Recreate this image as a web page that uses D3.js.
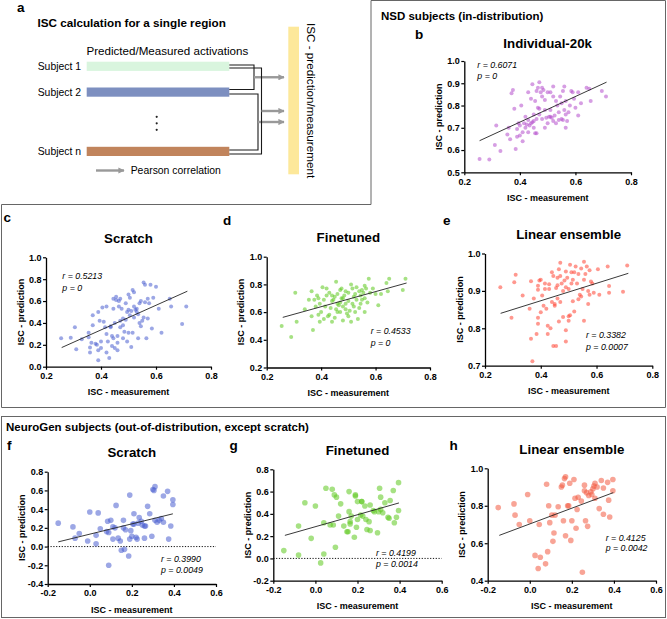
<!DOCTYPE html>
<html><head><meta charset="utf-8">
<script src="https://cdn.jsdelivr.net/npm/d3@7"></script>
<style>body{margin:0;background:#fff}svg{display:block}</style>
</head><body>
<svg id="c" width="667" height="619"></svg>
<script>
// ---------------- DATA ----------------
const subjects = ["Subject 1", "Subject 2", "Subject n"];
const subjectColors = ["#d9f5de", "#7d8fc0", "#c1845c"];

const xTicksNSD = [0.2, 0.4, 0.6, 0.8];
const xTicksNG = [-0.2, 0.0, 0.2, 0.4, 0.6];
const yTicksB = [0.5, 0.6, 0.7, 0.8, 0.9, 1.0];
const yTicksC = [0.0, 0.2, 0.4, 0.6, 0.8, 1.0];
const yTicksD = [0.2, 0.4, 0.6, 0.8, 1.0];
const yTicksE = [0.7, 0.8, 0.9, 1.0];
const yTicksF = [-0.4, -0.2, 0.0, 0.2, 0.4, 0.6, 0.8];
const yTicksG = [-0.2, 0.0, 0.2, 0.4, 0.6, 0.8];
const yTicksH = [0.4, 0.6, 0.8, 1.0];

const panelTitles = ["Individual-20k", "Scratch", "Finetuned", "Linear ensemble", "Scratch", "Finetuned", "Linear ensemble"];
const panelLetters = ["b", "c", "d", "e", "f", "g", "h"];
const statR = ["r = 0.6071", "r = 0.5213", "r = 0.4533", "r = 0.3382", "r = 0.3990", "r = 0.4199", "r = 0.4125"];
const statP = ["p = 0", "p = 0", "p = 0", "p = 0.0007", "p = 0.0049", "p = 0.0014", "p = 0.0042"];

const ptsB = [[0.255,0.56],[0.29,0.558],[0.31,0.623],[0.315,0.71],[0.33,0.596],[0.355,0.67],[0.36,0.70],[0.365,0.648],[0.37,0.855],[0.375,0.87],[0.38,0.785],[0.385,0.605],[0.39,0.695],[0.39,0.66],[0.395,0.72],[0.40,0.665],[0.40,0.71],[0.405,0.80],[0.41,0.68],[0.41,0.64],[0.415,0.72],[0.42,0.70],[0.42,0.75],[0.425,0.715],[0.43,0.68],[0.43,0.735],[0.435,0.71],[0.44,0.72],[0.44,0.83],[0.445,0.725],[0.445,0.895],[0.45,0.70],[0.45,0.76],[0.455,0.675],[0.455,0.82],[0.46,0.865],[0.46,0.675],[0.46,0.74],[0.465,0.79],[0.465,0.88],[0.47,0.905],[0.47,0.785],[0.47,0.76],[0.475,0.86],[0.48,0.88],[0.48,0.84],[0.48,0.74],[0.485,0.87],[0.49,0.825],[0.49,0.78],[0.49,0.70],[0.495,0.745],[0.50,0.86],[0.50,0.72],[0.505,0.75],[0.51,0.86],[0.51,0.78],[0.51,0.75],[0.515,0.745],[0.52,0.885],[0.52,0.84],[0.52,0.73],[0.525,0.755],[0.53,0.82],[0.53,0.72],[0.535,0.80],[0.54,0.77],[0.54,0.735],[0.545,0.84],[0.55,0.81],[0.55,0.74],[0.555,0.865],[0.555,0.735],[0.56,0.885],[0.56,0.78],[0.565,0.82],[0.565,0.76],[0.57,0.73],[0.575,0.77],[0.58,0.80],[0.585,0.865],[0.59,0.86],[0.595,0.83],[0.60,0.79],[0.61,0.755],[0.61,0.86],[0.62,0.81],[0.64,0.88],[0.65,0.875],[0.655,0.82],[0.695,0.865],[0.71,0.84],[0.565,0.70],[0.45,0.73],[0.43,0.86]];
const ptsC = [[0.255,0.26],[0.29,0.265],[0.305,0.36],[0.31,0.16],[0.33,0.25],[0.355,0.27],[0.355,0.31],[0.36,0.175],[0.36,0.13],[0.365,0.22],[0.37,0.38],[0.37,0.47],[0.38,0.21],[0.385,0.2],[0.39,0.06],[0.39,0.15],[0.39,0.5],[0.395,0.42],[0.40,0.17],[0.40,0.23],[0.405,0.54],[0.41,0.41],[0.415,0.36],[0.42,0.13],[0.42,0.3],[0.425,0.23],[0.43,0.08],[0.435,0.37],[0.435,0.36],[0.44,0.19],[0.44,0.28],[0.445,0.53],[0.445,0.62],[0.45,0.17],[0.45,0.4],[0.455,0.64],[0.455,0.61],[0.46,0.28],[0.46,0.22],[0.46,0.15],[0.465,0.6],[0.465,0.55],[0.47,0.42],[0.47,0.36],[0.475,0.53],[0.48,0.26],[0.48,0.44],[0.485,0.32],[0.49,0.58],[0.49,0.43],[0.495,0.23],[0.495,0.5],[0.50,0.31],[0.50,0.66],[0.505,0.63],[0.505,0.47],[0.51,0.51],[0.51,0.18],[0.515,0.7],[0.515,0.31],[0.52,0.55],[0.52,0.68],[0.525,0.52],[0.53,0.5],[0.53,0.53],[0.535,0.26],[0.54,0.4],[0.545,0.6],[0.545,0.37],[0.55,0.42],[0.555,0.77],[0.555,0.45],[0.56,0.75],[0.56,0.59],[0.565,0.26],[0.57,0.44],[0.57,0.62],[0.58,0.75],[0.585,0.35],[0.59,0.63],[0.60,0.73],[0.61,0.53],[0.62,0.31],[0.65,0.62],[0.655,0.55],[0.695,0.39],[0.71,0.55],[0.54,0.58],[0.52,0.45],[0.48,0.38],[0.445,0.26],[0.42,0.55],[0.47,0.62],[0.5,0.52],[0.535,0.48],[0.575,0.58]];
const ptsD = [[0.255,0.50],[0.29,0.42],[0.305,0.74],[0.31,0.53],[0.34,0.62],[0.355,0.69],[0.365,0.75],[0.365,0.57],[0.37,0.47],[0.375,0.69],[0.38,0.64],[0.385,0.72],[0.39,0.70],[0.39,0.58],[0.395,0.66],[0.395,0.53],[0.40,0.60],[0.405,0.78],[0.41,0.55],[0.415,0.64],[0.42,0.72],[0.42,0.77],[0.425,0.57],[0.43,0.74],[0.435,0.63],[0.44,0.68],[0.44,0.53],[0.445,0.69],[0.45,0.71],[0.455,0.62],[0.455,0.82],[0.46,0.66],[0.46,0.73],[0.465,0.65],[0.47,0.60],[0.47,0.76],[0.475,0.70],[0.48,0.64],[0.48,0.54],[0.485,0.72],[0.49,0.75],[0.49,0.62],[0.495,0.59],[0.50,0.68],[0.50,0.74],[0.505,0.61],[0.51,0.80],[0.51,0.53],[0.515,0.77],[0.515,0.66],[0.52,0.71],[0.525,0.60],[0.53,0.69],[0.535,0.55],[0.54,0.63],[0.54,0.75],[0.545,0.72],[0.55,0.69],[0.55,0.76],[0.555,0.74],[0.56,0.70],[0.56,0.79],[0.565,0.77],[0.57,0.67],[0.575,0.84],[0.58,0.74],[0.59,0.77],[0.60,0.73],[0.61,0.65],[0.62,0.73],[0.64,0.81],[0.645,0.75],[0.65,0.84],[0.70,0.76],[0.71,0.84],[0.45,0.56],[0.43,0.58],[0.47,0.67],[0.52,0.64],[0.5,0.57],[0.475,0.77],[0.53,0.78],[0.41,0.69],[0.56,0.6],[0.46,0.6],[0.49,0.66],[0.44,0.72],[0.525,0.73],[0.545,0.66],[0.48,0.7]];
const ptsE = [[0.255,0.91],[0.295,0.828],[0.305,0.923],[0.31,0.943],[0.335,0.888],[0.36,0.852],[0.365,0.772],[0.365,0.926],[0.37,0.712],[0.375,0.88],[0.385,0.785],[0.39,0.903],[0.39,0.914],[0.39,0.812],[0.39,0.828],[0.395,0.928],[0.40,0.843],[0.405,0.888],[0.41,0.86],[0.415,0.905],[0.42,0.852],[0.425,0.785],[0.425,0.807],[0.43,0.918],[0.435,0.80],[0.44,0.87],[0.44,0.95],[0.445,0.753],[0.445,0.94],[0.45,0.865],[0.45,0.86],[0.455,0.753],[0.455,0.908],[0.46,0.915],[0.46,0.88],[0.465,0.958],[0.465,0.818],[0.47,0.975],[0.47,0.94],[0.475,0.92],[0.48,0.90],[0.48,0.83],[0.485,0.928],[0.49,0.952],[0.49,0.765],[0.49,0.795],[0.495,0.935],[0.5,0.832],[0.5,0.905],[0.505,0.835],[0.51,0.92],[0.51,0.95],[0.515,0.872],[0.515,0.93],[0.52,0.845],[0.525,0.965],[0.53,0.92],[0.535,0.878],[0.54,0.89],[0.545,0.96],[0.545,0.885],[0.55,0.905],[0.555,0.978],[0.555,0.93],[0.56,0.945],[0.565,0.965],[0.57,0.865],[0.57,0.9],[0.575,0.955],[0.58,0.925],[0.585,0.92],[0.59,0.895],[0.605,0.958],[0.61,0.89],[0.64,0.965],[0.645,0.913],[0.645,0.895],[0.695,0.898],[0.71,0.968],[0.50,0.82],[0.52,0.95],[0.46,0.935],[0.43,0.905],[0.555,0.82],[0.47,0.87],[0.535,0.945],[0.49,0.91],[0.415,0.92],[0.505,0.97],[0.4,0.93],[0.575,0.89]];
const ptsF = [[-0.15,0.25],[-0.08,0.21],[-0.07,0.09],[-0.05,0.14],[-0.01,0.06],[0.0,0.37],[0.03,0.03],[0.03,0.12],[0.04,0.36],[0.05,0.19],[0.08,0.16],[0.085,0.27],[0.09,0.15],[0.09,-0.2],[0.10,0.28],[0.11,0.21],[0.11,0.08],[0.125,0.44],[0.135,0.09],[0.145,0.06],[0.15,-0.04],[0.16,0.28],[0.16,0.2],[0.165,-0.03],[0.17,0.18],[0.185,-0.1],[0.19,0.55],[0.19,0.08],[0.195,0.17],[0.2,0.11],[0.205,0.24],[0.21,0.35],[0.22,0.1],[0.225,0.08],[0.23,0.25],[0.235,0.31],[0.245,0.27],[0.25,0.23],[0.26,0.22],[0.26,0.09],[0.265,0.22],[0.275,0.43],[0.285,0.35],[0.295,0.11],[0.3,0.61],[0.31,0.64],[0.31,0.28],[0.32,0.26],[0.33,0.28],[0.34,0.3],[0.35,0.26],[0.35,0.54],[0.37,0.59],[0.375,0.08],[0.385,0.22],[0.395,0.45],[0.395,0.5],[0.305,0.6],[0.12,0.2],[0.21,0.24]];
const ptsG = [[-0.15,0.07],[-0.08,0.29],[-0.08,0.03],[-0.05,0.5],[-0.02,0.18],[0.0,0.47],[0.025,-0.04],[0.04,0.32],[0.04,0.04],[0.05,0.63],[0.07,0.3],[0.08,0.62],[0.085,0.3],[0.09,0.57],[0.095,0.1],[0.1,0.55],[0.11,0.38],[0.12,0.49],[0.135,0.29],[0.15,0.24],[0.155,0.24],[0.16,0.42],[0.16,0.6],[0.165,0.33],[0.17,0.38],[0.185,0.19],[0.19,0.57],[0.19,0.56],[0.195,0.28],[0.2,0.35],[0.215,0.39],[0.22,0.51],[0.225,0.38],[0.235,0.47],[0.24,0.35],[0.245,0.26],[0.255,0.33],[0.26,0.25],[0.26,0.48],[0.275,0.43],[0.28,0.42],[0.295,0.23],[0.305,0.63],[0.31,0.55],[0.31,0.44],[0.32,0.41],[0.33,0.5],[0.345,0.37],[0.35,0.36],[0.355,0.52],[0.37,0.61],[0.375,0.32],[0.385,0.37],[0.395,0.68],[0.395,0.43],[0.22,0.51],[0.3,0.42],[0.2,0.51],[0.165,0.31]];
const ptsH = [[-0.15,0.79],[-0.075,0.81],[-0.07,0.75],[-0.05,0.7],[-0.01,0.86],[0.0,0.72],[0.025,0.535],[0.04,0.465],[0.045,0.70],[0.05,0.525],[0.075,0.49],[0.08,0.915],[0.085,0.555],[0.09,0.80],[0.095,0.71],[0.105,0.75],[0.11,0.61],[0.115,0.655],[0.12,0.75],[0.135,0.795],[0.15,0.90],[0.155,0.91],[0.16,0.72],[0.165,0.945],[0.17,0.955],[0.17,0.64],[0.18,0.80],[0.185,0.80],[0.19,0.92],[0.195,0.615],[0.2,0.72],[0.21,0.94],[0.215,0.84],[0.22,0.68],[0.225,0.78],[0.23,0.845],[0.245,0.825],[0.25,0.445],[0.26,0.91],[0.26,0.88],[0.265,0.72],[0.27,0.87],[0.275,0.69],[0.28,0.855],[0.29,0.875],[0.295,0.86],[0.3,0.89],[0.31,0.92],[0.31,0.84],[0.32,0.9],[0.33,0.785],[0.34,0.935],[0.35,0.755],[0.35,0.895],[0.37,0.925],[0.375,0.83],[0.38,0.74],[0.395,0.94],[0.395,0.88],[0.305,0.905]];

const fitB = [[0.255,0.642],[0.712,0.905]];
const fitC = [[0.257,0.175],[0.714,0.69]];
const fitD = [[0.259,0.562],[0.714,0.81]];
const fitE = [[0.256,0.84],[0.714,0.947]];
const fitF = [[-0.15,0.05],[0.395,0.35]];
const fitG = [[-0.145,0.207],[0.397,0.498]];
const fitH = [[-0.145,0.642],[0.397,0.87]];

// ---------------- DRAWING ----------------
const FONT = "'Liberation Sans', Arial, Helvetica, sans-serif";
const svg = d3.select("#c").style("font-family", FONT);

// Section boxes
svg.append("path")
  .attr("d", "M371,0.5 H665.5 V407.5 H1.5 V204.5 H371 Z")
  .attr("fill", "none").attr("stroke", "#666").attr("stroke-width", 1);
svg.append("rect").attr("x", 1.5).attr("y", 416.5).attr("width", 664).attr("height", 201)
  .attr("fill", "none").attr("stroke", "#666").attr("stroke-width", 1);

svg.append("text").attr("x", 381).attr("y", 20).attr("font-size", 11.5).attr("font-weight", "bold")
  .text("NSD subjects (in-distribution)");
svg.append("text").attr("x", 6).attr("y", 431).attr("font-size", 11.5).attr("font-weight", "bold")
  .text("NeuroGen subjects (out-of-distribution, except scratch)");

// ---------- Panel a: schematic ----------
const ga = svg.append("g");
ga.append("text").attr("x", 17).attr("y", 12).attr("font-size", 13.5).attr("font-weight", "bold").text("a");
ga.append("text").attr("x", 37.5).attr("y", 27).attr("font-size", 11.7).attr("font-weight", "bold")
  .text("ISC calculation for a single region");
ga.append("text").attr("x", 86.5).attr("y", 54.5).attr("font-size", 11.6).text("Predicted/Measured activations");

const barY = d3.scalePoint().domain(subjects).range([0, 1]);
const barTops = [61.7, 87.5, 146.8];
subjects.forEach((s, i) => {
  ga.append("rect").attr("x", 86.7).attr("y", barTops[i]).attr("width", 142.6).attr("height", 9.2)
    .attr("fill", subjectColors[i]);
  ga.append("text").attr("x", 81).attr("y", barTops[i] + 8.2).attr("text-anchor", "end")
    .attr("font-size", 10.4).text(s);
});
// vertical dots
[116.8, 123.3, 129.8].forEach(y => ga.append("circle").attr("cx", 156.7).attr("cy", y).attr("r", 1.1).attr("fill", "#222"));

// connectors: pairs of subjects joined, arrow at midpoint
const lineYs = [[65, 68], [89.5, 94], [150, 154]];
const pairs = [
  {a: [0, 0], b: [1, 0], x: 254},
  {a: [1, 1], b: [2, 0], x: 258},
  {a: [0, 1], b: [2, 1], x: 261.5}
];
svg.append("defs").append("marker").attr("id", "ah").attr("viewBox", "0 0 10 10")
  .attr("refX", 9).attr("refY", 5).attr("markerWidth", 2.6).attr("markerHeight", 2.6)
  .attr("orient", "auto").append("path").attr("d", "M0,0 L10,5 L0,10 Z").attr("fill", "#999");
pairs.forEach(p => {
  const y1 = lineYs[p.a[0]][p.a[1]], y2 = lineYs[p.b[0]][p.b[1]];
  ga.append("path").attr("d", `M229.3,${y1} H${p.x} V${y2} H229.3`)
    .attr("fill", "none").attr("stroke", "#1a1a1a").attr("stroke-width", 1.1);
  const ym = (y1 + y2) / 2;
  ga.append("line").attr("x1", p.x).attr("x2", 284).attr("y1", ym).attr("y2", ym)
    .attr("stroke", "#999").attr("stroke-width", 2.4).attr("marker-end", "url(#ah)");
});
ga.append("line").attr("x1", 96).attr("x2", 124).attr("y1", 170.5).attr("y2", 170.5)
  .attr("stroke", "#999").attr("stroke-width", 2.4).attr("marker-end", "url(#ah)");
ga.append("text").attr("x", 130.7).attr("y", 174).attr("font-size", 10.4).text("Pearson correlation");

ga.append("rect").attr("x", 288.3).attr("y", 26.7).attr("width", 10.7).attr("height", 147.6).attr("fill", "#fde89a");
ga.append("text").attr("transform", "translate(306.8,23) rotate(90)").attr("font-size", 11.7)
  .text("ISC - prediction/measurement");

// ---------- scatter panels ----------
const panels = [
  {pts: ptsB, fit: fitB, xd: [0.2, 0.8], yd: [0.5, 1.0], xt: xTicksNSD, yt: yTicksB, color: "#b54fcc", r: 2.0,
   L: 464.3, R: 631, T: 61, B: 172.3, letter: [415, 39], title: 48, stat: [477.3, 67.5, 79], zero: false},
  {pts: ptsC, fit: fitC, xd: [0.2, 0.8], yd: [0.0, 1.0], xt: xTicksNSD, yt: yTicksC, color: "#4a5fd0", r: 2.0,
   L: 46, R: 211, T: 257.3, B: 366.7, letter: [3.5, 222], title: 242.5, stat: [62.3, 279.3, 290.5], zero: false},
  {pts: ptsD, fit: fitD, xd: [0.2, 0.8], yd: [0.2, 1.0], xt: xTicksNSD, yt: yTicksD, color: "#5cc81e", r: 2.0,
   L: 266.7, R: 430, T: 256.7, B: 367.5, letter: [223, 225], title: 241.5, stat: [370.7, 334.3, 346], zero: false},
  {pts: ptsE, fit: fitE, xd: [0.2, 0.8], yd: [0.7, 1.0], xt: xTicksNSD, yt: yTicksE, color: "#ff4433", r: 2.0,
   L: 485, R: 652.3, T: 253.5, B: 365.7, letter: [443, 225], title: 239, stat: [586, 338.3, 349.5], zero: false},
  {pts: ptsF, fit: fitF, xd: [-0.2, 0.6], yd: [-0.4, 0.8], xt: xTicksNG, yt: yTicksF, color: "#4a5fd0", r: 2.8,
   L: 47.7, R: 216, T: 471.7, B: 584, letter: [7, 450], title: 457, stat: [161, 561.7, 572.5], zero: true},
  {pts: ptsG, fit: fitG, xd: [-0.2, 0.6], yd: [-0.2, 0.8], xt: xTicksNG, yt: yTicksG, color: "#5cc81e", r: 2.8,
   L: 273.3, R: 441.7, T: 469.3, B: 580.7, letter: [229.5, 450], title: 455, stat: [376, 556, 567], zero: true},
  {pts: ptsH, fit: fitH, xd: [-0.2, 0.6], yd: [0.4, 1.0], xt: xTicksNG, yt: yTicksH, color: "#f25a40", r: 2.8,
   L: 487.7, R: 656, T: 468.3, B: 580.7, letter: [449.5, 450], title: 454, stat: [605.7, 540.7, 551], zero: false}
];

const fmt = d => d.toFixed(1);

panels.forEach((p, i) => {
  const g = svg.append("g");
  const x = d3.scaleLinear().domain(p.xd).range([p.L, p.R]);
  const y = d3.scaleLinear().domain(p.yd).range([p.B, p.T]);

  g.append("text").attr("x", p.letter[0]).attr("y", p.letter[1]).attr("font-size", 13.5)
    .attr("font-weight", "bold").text(panelLetters[i]);
  g.append("text").attr("x", (p.L + p.R) / 2).attr("y", p.title).attr("text-anchor", "middle")
    .attr("font-size", 13.3).attr("font-weight", "bold").text(panelTitles[i]);

  if (p.zero) {
    g.append("line").attr("x1", x(p.xd[0])).attr("x2", x(p.xd[1])).attr("y1", y(0)).attr("y2", y(0))
      .attr("stroke", "#111").attr("stroke-width", 1).attr("stroke-dasharray", "1.2,1.6");
  }

  g.append("g").selectAll("circle").data(p.pts).join("circle")
    .attr("cx", d => x(d[0])).attr("cy", d => y(d[1])).attr("r", p.r)
    .attr("fill", p.color).attr("fill-opacity", 0.55);

  g.append("line").attr("x1", x(p.fit[0][0])).attr("y1", y(p.fit[0][1]))
    .attr("x2", x(p.fit[1][0])).attr("y2", y(p.fit[1][1]))
    .attr("stroke", "#222").attr("stroke-width", 0.9);

  const ax = g.append("g").attr("transform", `translate(0,${p.B})`)
    .call(d3.axisBottom(x).tickValues(p.xt).tickFormat(fmt).tickSize(3).tickSizeOuter(0).tickPadding(3));
  const ay = g.append("g").attr("transform", `translate(${p.L},0)`)
    .call(d3.axisLeft(y).tickValues(p.yt).tickFormat(fmt).tickSize(3).tickSizeOuter(0).tickPadding(1.5));
  [ax, ay].forEach(a => {
    a.select(".domain").attr("stroke", "#000").attr("stroke-width", 1.3);
    a.selectAll(".tick line").attr("stroke", "#000").attr("stroke-width", 1.2);
    a.selectAll(".tick text").attr("font-family", FONT).attr("font-size", 9).attr("font-weight", "bold").attr("fill", "#000");
  });

  g.append("text").attr("x", (p.L + p.R) / 2).attr("y", p.B + 28.5).attr("text-anchor", "middle")
    .attr("font-size", 9).attr("font-weight", "bold").text("ISC - measurement");
  g.append("text").attr("transform", `translate(${p.L - 22.5},${(p.T + p.B) / 2}) rotate(-90)`)
    .attr("text-anchor", "middle").attr("font-size", 9).attr("font-weight", "bold").text("ISC - prediction");

  g.append("text").attr("x", p.stat[0]).attr("y", p.stat[1]).attr("font-size", 8.8)
    .attr("font-style", "italic").text(statR[i]);
  g.append("text").attr("x", p.stat[0]).attr("y", p.stat[2]).attr("font-size", 8.8)
    .attr("font-style", "italic").text(statP[i]);
});
</script>
</body></html>
